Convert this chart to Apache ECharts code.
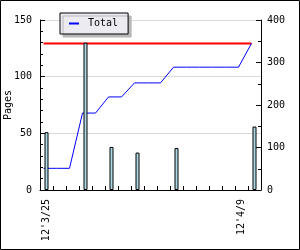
<!DOCTYPE html>
<html>
<head>
<meta charset="utf-8">
<script src="https://cdn.jsdelivr.net/npm/echarts@6/dist/echarts.min.js"></script>
<style>
html,body{margin:0;padding:0;background:#fff;}
#c{width:300px;height:250px;}
</style>
</head>
<body>
<div id="c"></div>
<script>
// ---- data ----
const categories = ["12'3/25","12'3/26","12'3/27","12'3/28","12'3/29","12'3/30","12'3/31",
  "12'4/1","12'4/2","12'4/3","12'4/4","12'4/5","12'4/6","12'4/7","12'4/8","12'4/9","12'4/10"];
const shownLabels = ["12'3/25", "12'4/9"];
const pages = [51, null, null, 130, null, 38, null, 33, null, null, 37, null, null, null, null, null, 56];
const totals = [51, 51, 51, 181, 181, 219, 219, 252, 252, 252, 289, 289, 289, 289, 289, 289, 345];
const targetLine = [345, 345, 345, 345, 345, 345, 345, 345, 345, 345, 345, 345, 345, 345, 345, 345, 345];
const leftTicks = { min: 0, max: 150, interval: 50 };
const rightTicks = { min: 0, max: 400, interval: 100 };

const FONT = 'DejaVu Sans Mono';
const chart = echarts.init(document.getElementById('c'), null, { renderer: 'canvas' });
chart.setOption({
  animation: false,
  backgroundColor: '#ffffff',
  textStyle: { fontFamily: FONT, fontSize: 10, color: '#000' },
  graphic: [{
    type: 'rect', shape: { x: 0.5, y: 0.5, width: 299, height: 249 },
    style: { fill: 'none', stroke: '#000', lineWidth: 1 }, z: 100
  }],
  legend: {
    data: ['Total'],
    left: 60, top: 13,
    orient: 'horizontal',
    padding: [5, 10, 5, 9],
    itemWidth: 10, itemHeight: 2,
    icon: 'rect',
    backgroundColor: '#ecebf2',
    borderColor: '#000', borderWidth: 1,
    shadowColor: '#b8b8b8', shadowBlur: 0, shadowOffsetX: 3, shadowOffsetY: 3,
    textStyle: { fontFamily: FONT, fontSize: 10, color: '#000', padding: [0, 0, 0, 4], lineHeight: 11 },
    itemStyle: { color: '#0000ff' }
  },
  grid: [
    { left: 40, width: 221, top: 20, bottom: 60, containLabel: false, outerBoundsMode: 'none' },
    { left: 37, width: 221, top: 20, bottom: 60, containLabel: false, outerBoundsMode: 'none' }
  ],
  xAxis: [{
    type: 'category', gridIndex: 0, data: categories, boundaryGap: true,
    axisLine: { lineStyle: { color: '#000', width: 1 } },
    axisTick: { show: true, inside: true, length: 4, interval: 0, lineStyle: { color: '#000' } },
    axisLabel: {
      rotate: 90, margin: 9, fontFamily: FONT, fontSize: 10, color: '#000',
      interval: (i, v) => shownLabels.indexOf(v) >= 0
    },
    splitLine: { show: false }
  }, {
    type: 'category', gridIndex: 1, data: categories, boundaryGap: true, show: false
  }],
  yAxis: [{
    type: 'value', gridIndex: 0, position: 'left',
    min: leftTicks.min, max: leftTicks.max, interval: leftTicks.interval,
    name: 'Pages', nameLocation: 'middle', nameGap: 27, nameMoveOverlap: false,
    nameTextStyle: { fontFamily: FONT, fontSize: 10, color: '#000' },
    axisLine: { show: true, lineStyle: { color: '#000' } },
    axisTick: { show: true, inside: true, length: 5, lineStyle: { color: '#000' } },
    minorTick: { show: true, splitNumber: 5, length: 3, lineStyle: { color: '#000' } },
    axisLabel: { margin: 8, fontFamily: FONT, fontSize: 10, color: '#000' },
    splitLine: { show: true, lineStyle: { color: '#d9d9d9', width: 1 } }
  }, {
    type: 'value', gridIndex: 0, position: 'right',
    min: rightTicks.min, max: rightTicks.max, interval: rightTicks.interval,
    axisLine: { show: true, lineStyle: { color: '#000' } },
    axisTick: { show: true, inside: true, length: 5, lineStyle: { color: '#000' } },
    minorTick: { show: true, splitNumber: 2, length: 3, lineStyle: { color: '#000' } },
    axisLabel: { margin: 6, fontFamily: FONT, fontSize: 10, color: '#000' },
    splitLine: { show: false }
  }, {
    type: 'value', gridIndex: 1, min: rightTicks.min, max: rightTicks.max, show: false
  }],
  series: [{
    name: 'Target', type: 'line', xAxisIndex: 1, yAxisIndex: 2,
    data: targetLine, showSymbol: false, symbol: 'none',
    lineStyle: { color: '#ff0000', width: 2 }, z: 2
  }, {
    name: 'Total', type: 'line', xAxisIndex: 1, yAxisIndex: 2,
    data: totals, showSymbol: false, symbol: 'none',
    lineStyle: { color: '#0000ff', width: 1 }, itemStyle: { color: '#0000ff' }, z: 3
  }, {
    name: 'Pages', type: 'bar', xAxisIndex: 0, yAxisIndex: 0,
    data: pages, barWidth: 4,
    itemStyle: { color: '#add8e6', borderColor: '#000', borderWidth: 1 }, z: 4
  }]
});
</script>
</body>
</html>
